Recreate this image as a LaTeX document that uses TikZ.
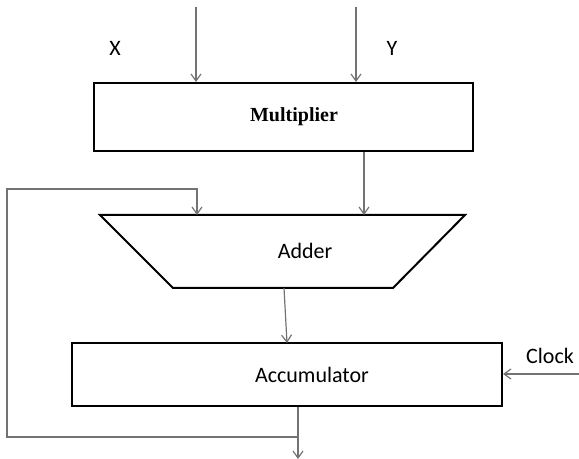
\documentclass[tikz,border=0pt]{standalone}
\usepackage{fontspec}
\setmainfont{Carlito}
\newfontfamily\serifrm{Liberation Serif}
\usetikzlibrary{arrows.meta}
\begin{document}
\begin{tikzpicture}[x=0.5pt,y=-0.5pt,
	blk/.style={draw,line width=1pt,inner sep=0pt},
	wire/.style={draw=black!55,line width=0.6pt},
	arr/.style={wire,-{Straight Barb[length=3.5pt,width=5pt]}}]
	\useasboundingbox (0,0) rectangle (579,459);
	
	\path
	(196,7) coordinate (InX)
	(356,7) coordinate (InY)
	(579,374) coordinate (Clk)
	(298,459) coordinate (Out)
	(7,437) coordinate (FbL)
	(7,189) coordinate (FbT)
	(197,189) coordinate (FbR)
	(100,215) coordinate (AddTL)
	(465,215) coordinate (AddTR)
	(393,288) coordinate (AddBR)
	(173,288) coordinate (AddBL);
	
	\node[blk,minimum width=189.5pt,minimum height=34pt] (Mul) at (283.5,117) {};
	\node[blk,minimum width=215pt,minimum height=31.5pt] (Acc) at (287,374.5) {};
	\draw[line width=1pt,line join=miter] (AddTL)--(AddTR)--(AddBR)--(AddBL)--cycle;
	
	\node[font=\serifrm\bfseries\fontsize{10}{12}\selectfont] (MulTxt) at (294,117) {Multiplier};
	\node[font=\fontsize{11}{13}\selectfont] (AddTxt) at (305,251) {Adder};
	\node[font=\fontsize{11}{13}\selectfont] (AccTxt) at (312,375) {Accumulator};
	\node[font=\fontsize{11}{13}\selectfont] (XTxt) at (115,48) {X};
	\node[font=\fontsize{11}{13}\selectfont] (YTxt) at (392,48) {Y};
	\node[font=\fontsize{11}{13}\selectfont] (ClkTxt) at (550,356) {Clock};
	
	\draw[arr] (InX)--(InX |- Mul.north);
	\draw[arr] (InY)--(InY |- Mul.north);
	\draw[arr] (Mul.south -| 364,0)--(364,215);
	\draw[arr] (284,288)--(287,343);
	\draw[arr] (Clk)--(Clk -| Acc.east);
	\draw[arr] (Acc.south -| Out)--(Out);
	\draw[arr] (298,437)--(FbL)--(FbT)--(FbR)--(FbR |- AddTL);
\end{tikzpicture}
\end{document}
